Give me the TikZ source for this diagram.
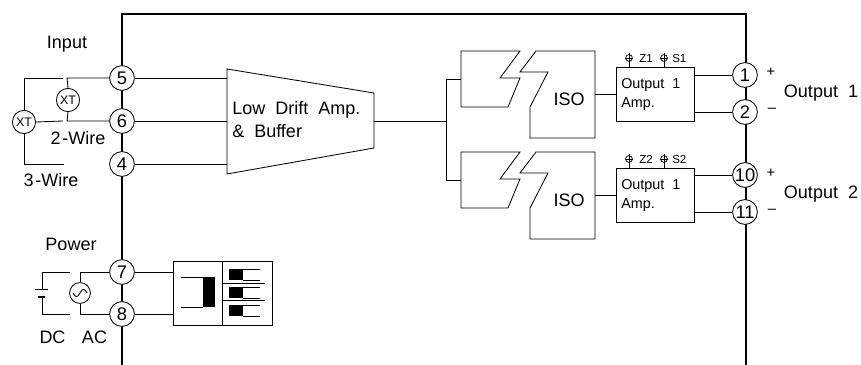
\documentclass[tikz,border=0pt]{standalone}
\usepackage{fontspec}
\setmainfont{Liberation Sans}
\tikzset{
    term/.style={draw, circle, fill=white, inner sep=0pt, minimum size=0.62cm, line width=0.6pt, font=\fontsize{13}{15}\selectfont},
    xmit/.style={draw, circle, fill=white, inner sep=0pt, minimum size=0.58cm, line width=0.6pt, font=\fontsize{8.8}{10}\selectfont},
    lbl/.style={inner sep=0pt, font=\fontsize{12.8}{15}\selectfont},
    smalllbl/.style={inner sep=0pt, font=\fontsize{8.2}{10}\selectfont},
    boxlbl/.style={inner sep=0pt, anchor=west, font=\fontsize{10.2}{12}\selectfont},
    signlbl/.style={inner sep=0pt, font=\fontsize{10.5}{12}\selectfont},
    wire/.style={line width=0.6pt},
    probe/.style={draw, circle, inner sep=0pt, minimum size=0.17cm, line width=0.5pt},
    ampbox/.style={draw, line width=0.6pt, minimum width=1.95cm, minimum height=1.35cm, inner sep=0pt},
}
\begin{document}
\begin{tikzpicture}[x=0.025cm, y=-0.025cm]
    \useasboundingbox (0,0) rectangle (861,365);
    % housing
    \draw[line width=1.2pt] (122,365) -- (122,14) -- (746,14) -- (746,365);

    % terminals
    \node[term] (t5) at (122,78) {5};
    \node[term] (t6) at (122,121) {6};
    \node[term] (t4) at (122,164) {4};
    \node[term] (t7) at (122,272) {7};
    \node[term] (t8) at (122,314) {8};
    \node[term] (t1) at (745,75) {1};
    \node[term] (t2) at (745,112) {2};
    \node[term] (t10) at (745,175) {10};
    \node[term] (t11) at (745,212) {11};

    % input side
    \node[xmit] (xt2) at (68,100) {XT};
    \node[xmit] (xt3) at (24,122) {XT};
    \coordinate (a5) at (63,78);
    \coordinate (a6) at (63,121);
    \coordinate (a4) at (64,164);
    \coordinate (b5) at (67,78);
    \coordinate (b6) at (67,121);
    \draw[wire] (a5) -- (a5 -| xt3) -- (xt3.north);
    \draw[wire] (xt3.south) -- (a4 -| xt3) -- (a4);
    \draw[wire] (xt3.east) -- (a6);
    \draw[wire] (t5) -- (b5) -- (xt2.north);
    \draw[wire] (t6) -- (b6) -- (xt2.south);
    \node[lbl] (input) at (67,44) {Input};
    \node[lbl] (wire2) at (78,138) {2\hspace{0.1em}-Wire};
    \node[lbl] (wire3) at (51,180) {3\hspace{0.1em}-Wire};

    % low drift amplifier
    \coordinate (ampa) at (227,69);
    \coordinate (ampb) at (374,93);
    \coordinate (ampc) at (374,148);
    \coordinate (ampd) at (227,174);
    \draw[wire] (ampa) -- (ampb) -- (ampc) -- (ampd) -- cycle;
    \draw[wire] (t5) -- (t5 -| ampa);
    \draw[wire] (t6) -- (t6 -| ampa);
    \draw[wire] (t4) -- (t4 -| ampa);
    \node[lbl, anchor=west] (ampline) at (232,110) {Low~ Drift~ Amp.};
    \node[lbl, anchor=west] (bufline) at (232,131) {\&~ Buffer};

    % output channels
    \coordinate (split) at (446,121);
    \draw[wire] (ampb |- split) -- (split);
    \foreach \n/\dy/\tp/\tm in {1/0/t1/t2, 2/101/t10/t11} {
        \begin{scope}[yshift=-\dy*0.025cm]
            \draw[wire] (461,51) -- (520,51) -- (500,78) -- (520,78) -- (508,107) -- (461,107) -- cycle;
            \draw[wire] (536,51) -- (595,51) -- (595,138) -- (530,138) -- (530,107) -- (548,72) -- (520,72) -- cycle;
            \node[lbl] (iso\n) at (569,99) {ISO};
            \coordinate (isoin\n) at (461,79);
            \coordinate (isoout\n) at (595,94);
            \node[ampbox] (out\n) at (655,94) {};
            \node[boxlbl] (outa\n) at (621,85) {Output~ 1};
            \node[boxlbl] (outb\n) at (621,104) {Amp.};
            \node[probe] (z\n) at (629,58) {};
            \node[probe] (s\n) at (664,58) {};
            \node[smalllbl, anchor=west] (zl\n) at (639,58.5) {Z\n};
            \node[smalllbl, anchor=west] (sl\n) at (672,58.5) {S\n};
            \coordinate (za\n) at (629,53);
            \coordinate (sa\n) at (664,53);
        \end{scope}
        \draw[wire] (split |- isoin\n) -- (isoin\n);
        \draw[wire] (isoout\n) -- (out\n.west);
        \draw[wire] (za\n) -- (za\n |- out\n.north);
        \draw[wire] (sa\n) -- (sa\n |- out\n.north);
        \draw[wire] (z\n.west) -- (z\n.east);
        \draw[wire] (s\n.west) -- (s\n.east);
        \draw[wire] (\tp) -- (\tp -| out\n.east);
        \draw[wire] (\tm) -- (\tm -| out\n.east);
    }
    \draw[wire] (split |- isoin1) -- (split |- isoin2);

    \node[signlbl] (plus1) at (771,72) {+};
    \node[signlbl] (minus1) at (772,110) {--};
    \node[signlbl] (plus2) at (771,173) {+};
    \node[signlbl] (minus2) at (772,211) {--};
    \node[lbl] (name1) at (821,93) {Output~ 1};
    \node[lbl] (name2) at (821,194) {Output~ 2};

    % power side
    \node[lbl] (power) at (71,244) {Power};
    \node[lbl] (dc) at (52.5,337) {DC};
    \node[lbl] (ac) at (94.5,337) {AC};
    \node[draw, circle, line width=0.6pt, inner sep=0pt, minimum size=0.52cm] (acs) at (80,293) {};
    \draw[wire, shift={(acs.center)}, domain=-7:7, samples=30, variable=\t] plot ({\t}, {-3.5*sin(\t*360/14)});
    \coordinate (dca) at (42,272);
    \coordinate (dcb) at (42,314);
    \coordinate (dcp) at (42,289);
    \coordinate (dcm) at (42,297);
    \draw[wire] (70,272) -- (dca) -- (dcp);
    \draw[wire] (70,314) -- (dcb) -- (dcm);
    \draw[wire] (35,289) -- (48,289);
    \draw[line width=1.2pt] (38,297) -- (45,297);
    \draw[wire] (t7) -- (t7 -| acs) -- (acs.north);
    \draw[wire] (t8) -- (t8 -| acs) -- (acs.south);

    % relay
    \node[draw, line width=0.6pt, minimum width=2.475cm, minimum height=1.6cm, inner sep=0pt] (relay) at (222.5,293) {};
    \draw[wire] (t7) -- (t7 -| relay.west);
    \draw[wire] (t8) -- (t8 -| relay.west);
    \draw[wire] (222,261) -- (222,325);
    \fill (203,277) rectangle (215,307);
    \draw[wire] (181,277) -- (203,277);
    \draw[wire] (181,307) -- (203,307);
    \foreach \y in {269,287,305} {
        \fill (229,\y) rectangle (243,\y+11);
        \draw[wire] (243,\y) -- (260,\y);
        \draw[wire] (243,\y+11) -- (260,\y+11);
    }
    \draw[wire] (222,283.5) -- (265,283.5);
    \draw[wire] (222,300) -- (265,300);
\end{tikzpicture}
\end{document}
